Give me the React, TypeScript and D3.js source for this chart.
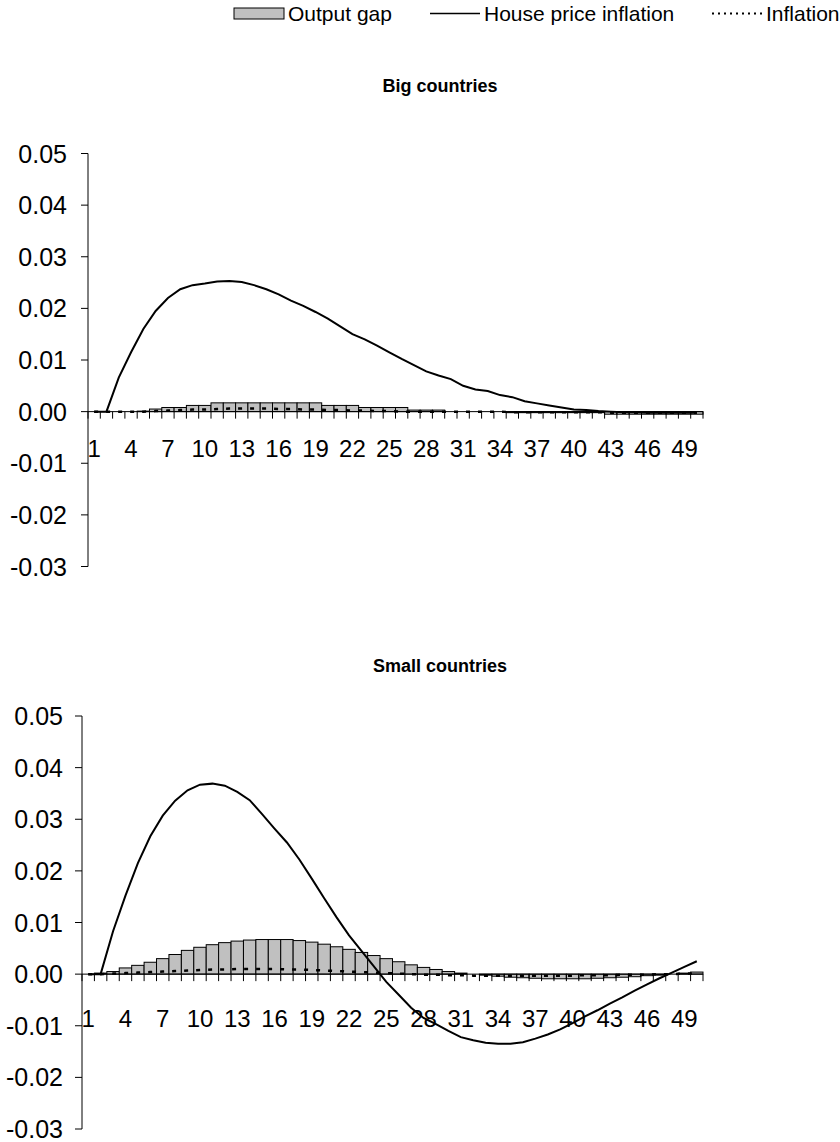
import React from "react";
import * as d3 from "d3";

// periods 1..50
const periods = d3.range(1, 51);
const tickPeriods = periods.filter((p) => (p - 1) % 3 === 0);
const yTicks = [0.05, 0.04, 0.03, 0.02, 0.01, 0, -0.01, -0.02, -0.03];

// Big countries
const bigOutputGap = [
  0, 0, 0, 0, 0.0001, 0.0005, 0.0008, 0.0008, 0.0012, 0.0012,
  0.0017, 0.0017, 0.0017, 0.0017, 0.0017, 0.0017, 0.0017, 0.0017, 0.0017, 0.0012,
  0.0012, 0.0012, 0.0008, 0.0008, 0.0008, 0.0008, 0.0003, 0.0003, 0.0003, 0,
  0, 0, 0, 0, -0.0002, -0.0002, -0.0002, -0.0002, -0.0002, -0.0002,
  -0.0002, -0.0002, -0.0005, -0.0005, -0.0005, -0.0005, -0.0005, -0.0005, -0.0005, -0.0005,
];
const bigHousePrice = [
  0, 0, 0.0066, 0.0115, 0.016, 0.0195, 0.022, 0.0237, 0.0245, 0.0248,
  0.0252, 0.0253, 0.0251, 0.0245, 0.0237, 0.0227, 0.0215, 0.0205, 0.0193, 0.018,
  0.0165, 0.015, 0.014, 0.0128, 0.0115, 0.0102, 0.009, 0.0078, 0.007, 0.0063,
  0.005, 0.0043, 0.004, 0.0032, 0.0028, 0.002, 0.0016, 0.0012, 0.0008, 0.0004,
  0.0003, 0.0001, 0, -0.0001, -0.0001, -0.0002, -0.0002, -0.0002, -0.0002, -0.0002,
];
const bigInflation = [
  0, 0, 0, 0, 0, 0.0001, 0.0002, 0.0003, 0.0004, 0.0004,
  0.0005, 0.0006, 0.0006, 0.0006, 0.0006, 0.0005, 0.0005, 0.0004, 0.0004, 0.0003,
  0.0003, 0.0002, 0.0002, 0.0001, 0.0001, 0, 0, 0, 0, 0,
  0, 0, 0, 0, -0.0001, -0.0001, -0.0001, -0.0001, -0.0001, -0.0001,
  -0.0001, -0.0001, -0.0002, -0.0002, -0.0002, -0.0002, -0.0002, -0.0002, -0.0002, -0.0002,
];

// Small countries
const smallOutputGap = [
  0, 0.0002, 0.0005, 0.0012, 0.0017, 0.0023, 0.003, 0.0038, 0.0046, 0.0052,
  0.0057, 0.0061, 0.0064, 0.0066, 0.0067, 0.0067, 0.0067, 0.0065, 0.0062, 0.0058,
  0.0053, 0.0048, 0.0042, 0.0036, 0.003, 0.0024, 0.0018, 0.0013, 0.0009, 0.0005,
  0.0002, 0, -0.0002, -0.0004, -0.0006, -0.0007, -0.0008, -0.0009, -0.0009, -0.0009,
  -0.0009, -0.0008, -0.0007, -0.0006, -0.0005, -0.0003, -0.0002, 0, 0.0002, 0.0004,
];
const smallHousePrice = [
  0, 0, 0.0083, 0.0152, 0.0215, 0.0267, 0.0307, 0.0336, 0.0356, 0.0367,
  0.0369, 0.0365, 0.0353, 0.0337, 0.031, 0.0282, 0.0255, 0.0222, 0.0185, 0.0147,
  0.011, 0.0075, 0.0045, 0.0015, -0.0015, -0.004, -0.0065, -0.0085, -0.0097, -0.011,
  -0.0122, -0.0128, -0.0133, -0.0135, -0.0135, -0.0132, -0.0125, -0.0117, -0.0107, -0.0095,
  -0.0082, -0.007, -0.0057, -0.0045, -0.0032, -0.002, -0.0008, 0.0003, 0.0014, 0.0025,
];
const smallInflation = [
  0, 0, 0.0001, 0.0002, 0.0003, 0.0004, 0.0005, 0.0006, 0.0007, 0.0008,
  0.0009, 0.0009, 0.001, 0.001, 0.001, 0.001, 0.0009, 0.0009, 0.0008, 0.0007,
  0.0006, 0.0005, 0.0004, 0.0003, 0.0002, 0.0001, 0, -0.0001, -0.0001, -0.0002,
  -0.0002, -0.0003, -0.0003, -0.0003, -0.0003, -0.0003, -0.0003, -0.0003, -0.0003, -0.0003,
  -0.0002, -0.0002, -0.0002, -0.0001, -0.0001, -0.0001, 0, 0, 0.0001, 0.0001,
];

const FONT = "'Liberation Sans', Arial, sans-serif";

type PanelProps = {
  title: string;
  gap: number[];
  house: number[];
  infl: number[];
  titleY: number;
  top: number;
  bottom: number;
  left: number;
  right: number;
  labelY: number;
  yLabelX: number;
};

const Panel = ({ title, gap, house, infl, titleY, top, bottom, left, right, labelY, yLabelX }: PanelProps) => {
  const x = d3.scaleBand<number>().domain(periods).range([left, right]).padding(0);
  const y = d3.scaleLinear().domain([-0.03, 0.05]).range([bottom, top]);
  const y0 = y(0);
  const cx = (p: number) => (x(p) as number) + x.bandwidth() / 2;

  const line = d3
    .line<number>()
    .x((_, i) => cx(periods[i]))
    .y((d) => y(d));

  return (
    <g>
      <text x={440} y={titleY} textAnchor="middle" fontWeight="bold" fontSize={18} fontFamily={FONT}>
        {title}
      </text>
      {/* bars */}
      {gap.map((v, i) => (
        <rect
          key={i}
          x={x(periods[i])}
          y={Math.min(y(v), y0)}
          width={x.bandwidth()}
          height={Math.abs(y(v) - y0)}
          fill="#c0c0c0"
          stroke="#000"
          strokeWidth={1}
        />
      ))}
      {/* x axis */}
      <line x1={left} x2={right} y1={y0} y2={y0} stroke="#000" strokeWidth={1} />
      {periods.concat([51]).map((p, i) => {
        const xx = left + i * x.bandwidth();
        return <line key={p} x1={xx} x2={xx} y1={y0} y2={y0 + 7} stroke="#000" strokeWidth={1} />;
      })}
      {tickPeriods.map((p) => (
        <text key={p} x={cx(p)} y={labelY} textAnchor="middle" fontSize={24} fontFamily={FONT}>
          {p}
        </text>
      ))}
      {/* y axis */}
      <line x1={left} x2={left} y1={top} y2={bottom} stroke="#000" strokeWidth={1} />
      {yTicks.map((t) => (
        <g key={t}>
          <line x1={left - 7} x2={left} y1={y(t)} y2={y(t)} stroke="#000" strokeWidth={1} />
          <text x={yLabelX} y={y(t)} dy="0.36em" textAnchor="end" fontSize={25} fontFamily={FONT}>
            {d3.format(".2f")(t).replace("−", "-")}
          </text>
        </g>
      ))}
      <path d={line(house) || ""} fill="none" stroke="#000" strokeWidth={2} />
      <path d={line(infl) || ""} fill="none" stroke="#000" strokeWidth={2.5} strokeDasharray="4,8" />
    </g>
  );
};

export default function App() {
  return (
    <svg width={840} height={1142} style={{ position: "absolute", left: 0, top: 0, background: "#fff" }}>
      {/* legend */}
      <g fontFamily={FONT} fontSize={21}>
        <rect x={234} y={8} width={50} height={11} fill="#c0c0c0" stroke="#000" strokeWidth={1} />
        <text x={288} y={21}>Output gap</text>
        <line x1={430} x2={480} y1={13.5} y2={13.5} stroke="#000" strokeWidth={1.5} />
        <text x={484} y={21}>House price inflation</text>
        <line x1={712} x2={762} y1={13.5} y2={13.5} stroke="#000" strokeWidth={2} strokeDasharray="2,4" />
        <text x={766} y={21}>Inflation</text>
      </g>
      <Panel
        title="Big countries"
        gap={bigOutputGap}
        house={bigHousePrice}
        infl={bigInflation}
        titleY={92}
        top={153.5}
        bottom={566.5}
        left={88}
        right={703}
        labelY={457}
        yLabelX={67}
      />
      <Panel
        title="Small countries"
        gap={smallOutputGap}
        house={smallHousePrice}
        infl={smallInflation}
        titleY={672}
        top={716}
        bottom={1129}
        left={82}
        right={703}
        labelY={1027}
        yLabelX={63}
      />
    </svg>
  );
}
